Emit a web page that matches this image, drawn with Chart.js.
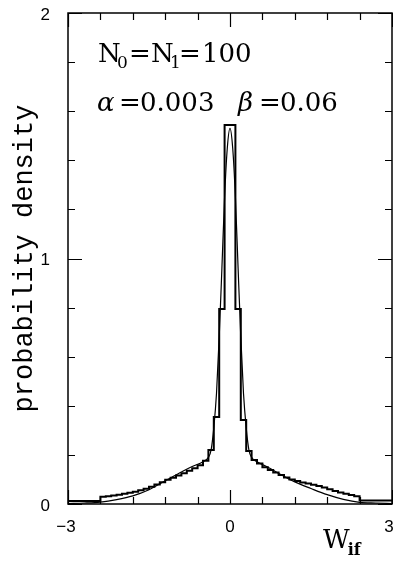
<!DOCTYPE html>
<html><head><meta charset="utf-8">
<script src="https://cdn.jsdelivr.net/npm/chart.js@4/dist/chart.umd.min.js"></script>
<style>html,body{margin:0;padding:0;background:#fff;}#wrap{width:393px;height:561px;position:relative;}</style>
</head><body><div id="wrap"><canvas id="c" width="393" height="561"></canvas></div>
<script>
// ---- data ----
const binEdges = [-3, -2.4, -2.3, -2.2, -2.1, -2.0, -1.9, -1.8, -1.7, -1.6, -1.5, -1.4, -1.3, -1.2, -1.1, -1.0,
  -0.9, -0.8, -0.7, -0.6, -0.5, -0.4, -0.3, -0.2, -0.1, 0, 0.1, 0.2, 0.3, 0.4, 0.5, 0.6, 0.7, 0.8, 0.9,
  1.0, 1.1, 1.2, 1.3, 1.4, 1.5, 1.6, 1.7, 1.8, 1.9, 2.0, 2.1, 2.2, 2.3, 2.4, 3];
const histValues = [0.012,
  0.030, 0.032, 0.035, 0.038, 0.042, 0.046, 0.050, 0.056, 0.062, 0.070, 0.079, 0.089, 0.099, 0.107, 0.116,
  0.125, 0.135, 0.146, 0.158, 0.176, 0.220, 0.354, 0.794, 1.544,
  1.544, 0.794, 0.342, 0.216, 0.179, 0.165, 0.150, 0.138, 0.128, 0.118, 0.108, 0.100, 0.094, 0.088,
  0.083, 0.078, 0.073, 0.067, 0.060, 0.053, 0.047, 0.042, 0.037, 0.032,
  0.014];
const curveX = [-3, -2.7, -2.4, -2.1, -1.8, -1.5, -1.2, -0.9, -0.7, -0.5, -0.4, -0.35, -0.3, -0.25, -0.2, -0.15, -0.1, -0.05, 0,
  0.05, 0.1, 0.15, 0.2, 0.25, 0.3, 0.35, 0.4, 0.5, 0.7, 0.9, 1.2, 1.5, 1.8, 2.1, 2.4, 2.7, 3];
const curveY = [0.002, 0.004, 0.008, 0.018, 0.033, 0.058, 0.095, 0.130, 0.153, 0.172, 0.190, 0.220, 0.310, 0.450, 0.680, 0.960, 1.250, 1.450, 1.530,
  1.450, 1.250, 0.960, 0.680, 0.450, 0.310, 0.220, 0.190, 0.172, 0.150, 0.125, 0.090, 0.063, 0.038, 0.019, 0.007, 0.004, 0.002];
const xTicks = [-3, -2.4, -1.8, -1.2, -0.6, 0, 0.6, 1.2, 1.8, 2.4, 3];
const xMajor = [-3, 0, 3];
const xTickLabels = ['\u22123', '0', '3'];
const yTicks = [0, 0.2, 0.4, 0.6, 0.8, 1, 1.2, 1.4, 1.6, 1.8, 2];
const yMajor = [0, 1, 2];
const yTickLabels = ['0', '1', '2'];
const xTitle = ['W', 'if'];
const yTitle = 'probability density';
// [text, kind(0 normal,1 subscript,2 greek italic), offset from plot left]
const noteLine1 = [['N', 0, 30], ['0', 1, 49], ['=', 0, 61], ['N', 0, 83], ['1', 1, 102], ['=', 0, 111], ['100', 0, 134]];
const noteLine2 = [['\u03B1', 2, 29], ['=', 0, 51], ['0.003', 0, 72], ['\u03B2', 2, 170], ['=', 0, 191], ['0.06', 0, 212]];

// ---- build datasets ----
const histPoints = histValues.map((v, i) => ({x: binEdges[i], y: v}));
histPoints.push({x: binEdges[binEdges.length - 1], y: histValues[histValues.length - 1]});
const curvePoints = curveX.map((x, i) => ({x, y: curveY[i]}));

const decor = {
  id: 'decor',
  afterDraw(chart) {
    const ctx = chart.ctx, a = chart.chartArea;
    const xs = chart.scales.x, ys = chart.scales.y;
    ctx.save();
    ctx.strokeStyle = '#000';
    ctx.fillStyle = '#000';
    ctx.lineWidth = 1.5;
    ctx.strokeRect(a.left, a.top, a.right - a.left, a.bottom - a.top);
    ctx.lineWidth = 1.2;
    ctx.beginPath();
    xTicks.forEach(v => {
      const px = Math.round(xs.getPixelForValue(v)) + 0.5;
      const len = xMajor.includes(v) ? 14 : 7;
      ctx.moveTo(px, a.bottom); ctx.lineTo(px, a.bottom - len);
      ctx.moveTo(px, a.top); ctx.lineTo(px, a.top + len);
    });
    yTicks.forEach(v => {
      const py = Math.round(ys.getPixelForValue(v)) + 0.5;
      const len = yMajor.includes(v) ? 14 : 7;
      ctx.moveTo(a.left, py); ctx.lineTo(a.left + len, py);
      ctx.moveTo(a.right, py); ctx.lineTo(a.right - len, py);
    });
    ctx.stroke();
    // tick labels
    ctx.font = '17px "Liberation Sans"';
    ctx.textAlign = 'center'; ctx.textBaseline = 'middle';
    const xOff = [-2, 0, -3];
    xMajor.forEach((v, i) => {
      ctx.fillText(xTickLabels[i], xs.getPixelForValue(v) + xOff[i], a.bottom + 23);
    });
    ctx.textAlign = 'right';
    yMajor.forEach((v, i) => {
      ctx.fillText(yTickLabels[i], a.left - 18, ys.getPixelForValue(v) + 2);
    });
    // x title
    ctx.textAlign = 'left'; ctx.textBaseline = 'alphabetic';
    ctx.font = '26px "DejaVu Serif"';
    const wx = a.left + 255;
    ctx.fillText(xTitle[0], wx, a.bottom + 44);
    const ww = ctx.measureText(xTitle[0]).width;
    ctx.font = 'bold 16px "DejaVu Serif"';
    ctx.fillText(xTitle[1], wx + ww - 2, a.bottom + 51);
    // y title
    ctx.save();
    ctx.translate(25, (a.top + a.bottom) / 2);
    ctx.rotate(-Math.PI / 2);
    ctx.textAlign = 'center'; ctx.textBaseline = 'middle';
    ctx.font = '27px "Liberation Mono"';
    ctx.fillText(yTitle, 0, 0);
    ctx.restore();
    // notes
    const drawParts = (parts, y) => {
      parts.forEach(([t, kind, off]) => {
        const x = a.left + off;
        if (kind === 1) { ctx.font = '17px "DejaVu Serif"'; ctx.fillText(t, x, y + 6); }
        else if (kind === 2) { ctx.font = 'italic 26px "DejaVu Serif"'; ctx.fillText(t, x, y); }
        else { ctx.font = '26px "DejaVu Serif"'; ctx.fillText(t, x, y); }
      });
    };
    drawParts(noteLine1, a.top + 49);
    drawParts(noteLine2, a.top + 98);
    ctx.restore();
  }
};

new Chart(document.getElementById('c'), {
  type: 'line',
  data: {
    datasets: [
      {data: histPoints, stepped: 'before', borderColor: '#000', borderWidth: 2, pointRadius: 0, fill: false},
      {data: curvePoints, cubicInterpolationMode: 'monotone', borderColor: '#000', borderWidth: 1.2, pointRadius: 0, fill: false}
    ]
  },
  options: {
    responsive: false, animation: false, devicePixelRatio: 1,
    layout: {padding: {left: 68, right: 1, top: 13, bottom: 57}},
    plugins: {legend: {display: false}, tooltip: {enabled: false}},
    scales: {
      x: {type: 'linear', min: -3, max: 3, display: false},
      y: {type: 'linear', min: 0, max: 2, display: false}
    }
  },
  plugins: [decor]
});
</script></body></html>
